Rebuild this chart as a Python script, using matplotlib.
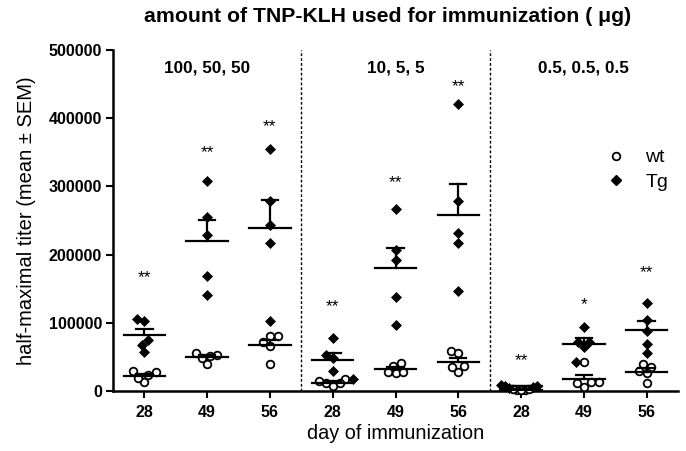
import numpy as np
import matplotlib
matplotlib.use("Agg")
import matplotlib.pyplot as plt
from matplotlib.lines import Line2D

plt.rcParams['font.family'] = ['Liberation Sans', 'DejaVu Sans']

# ---------------- data ----------------
group_labels = ["100, 50, 50", "10, 5, 5", "0.5, 0.5, 0.5"]
day_labels = ["28", "49", "56", "28", "49", "56", "28", "49", "56"]

wt_values = [
    [23500, 13200, 28900, 19500, 27400],
    [50800, 39600, 56200, 47900, 52300],
    [80600, 71400, 66400, 80200, 40000],
    [18000, 11200, 7300, 11200, 14200],
    [41000, 27400, 25900, 27400, 37100],
    [59000, 55200, 36200, 27400, 34700],
    [2000, 1500, 3000, 1000, 2500],
    [42000, 12700, 6300, 11200, 12700],
    [39600, 35700, 29300, 25900, 12200],
]
tg_values = [
    [103000, 105000, 75000, 68000, 57000],
    [307900, 254600, 229000, 168600, 140700],
    [354300, 279000, 243400, 217400, 103000],
    [77200, 53200, 48800, 29800, 18000],
    [267300, 206700, 192000, 138300, 96800],
    [420300, 278000, 231600, 217000, 146000],
    [8000, 7000, 9500, 6000, 4500],
    [94300, 72300, 72000, 64000, 42000],
    [129500, 104000, 88400, 69400, 55200],
]
significance = ["**", "**", "**", "**", "**", "**", "**", "*", "**"]
star_heights = [166000, 349000, 387000, 123000, 305000, 447000, 44000, 126000, 173000]

# ---------------- figure ----------------
W, H = 686, 451
fig = plt.figure(figsize=(W / 100, H / 100), dpi=100)
ax_l, ax_r, ax_b, ax_t = 113, 678, 391, 50
ax = fig.add_axes([ax_l / W, 1 - ax_b / H, (ax_r - ax_l) / W, (ax_b - ax_t) / H])

ymax = 500000
xlo, xhi = -0.5, 8.5
ax.set_xlim(xlo, xhi)
ax.set_ylim(0, ymax)

px_per_x = (ax_r - ax_l) / (xhi - xlo)
px_per_y = (ax_b - ax_t) / ymax

def swarm(vals, d=8.0, max_off=20.0):
    """Simple beeswarm: returns horizontal offsets in pixels."""
    ys = np.asarray(vals) * px_per_y
    order = np.argsort(ys)
    placed = []
    offs = np.zeros(len(ys))
    for i in order:
        y = ys[i]
        cands = [0.0]
        for (px, py) in placed:
            dy = abs(py - y)
            if dy < d:
                dx = np.sqrt(d * d - dy * dy)
                cands += [px + dx, px - dx]
        cands = sorted(cands, key=lambda c: (abs(c), c))
        for c in cands:
            ok = True
            for (px, py) in placed:
                if (px - c) ** 2 + (py - y) ** 2 < d * d - 1e-6:
                    ok = False
                    break
            if ok:
                offs[i] = c
                placed.append((c, y))
                break
    m = np.abs(offs).max()
    if m > max_off:
        offs = offs * max_off / m
    return offs

lw = 1.6
for i in range(len(day_labels)):
    wt = np.array(wt_values[i], float)
    tg = np.array(tg_values[i], float)
    allv = np.concatenate([wt, tg])
    offs = swarm(allv) / px_per_x
    n = len(wt)
    ax.plot(i + offs[:n], wt, 'o', ms=5.5, mfc='white', mec='black', mew=1.3,
            zorder=3, clip_on=False)
    ax.plot(i + offs[n:], tg, 'D', ms=5.2, mfc='black', mec='black', mew=0.5,
            zorder=3, clip_on=False)
    for v in (wt, tg):
        m = v.mean()
        sem = v.std(ddof=1) / np.sqrt(len(v))
        ax.plot([i - 0.33, i + 0.33], [m, m], color='black', lw=lw, zorder=4)
        ax.plot([i, i], [m, m + sem], color='black', lw=lw, zorder=4)
        ax.plot([i - 0.13, i + 0.13], [m + sem, m + sem], color='black', lw=lw, zorder=4)
    ax.text(i, star_heights[i], significance[i], ha='center', va='center',
            fontsize=12.5, color='black')

# dividers
for xd in (2.5, 5.5):
    ax.plot([xd, xd], [0, ymax], color='black', lw=1.0, ls=(0, (2, 1.5)), zorder=1)

# group labels
for g, lab in enumerate(group_labels):
    ax.text(3 * g + 1, 473000, lab, ha='center', va='center', fontsize=12.3,
            fontweight='bold')

# axes styling
for s in ('top', 'right'):
    ax.spines[s].set_visible(False)
for s in ('left', 'bottom'):
    ax.spines[s].set_linewidth(1.8)
ax.set_xticks(range(len(day_labels)))
ax.set_xticklabels(day_labels)
ax.set_yticks(np.arange(0, ymax + 1, 100000))
ax.set_yticklabels([str(int(v)) for v in np.arange(0, ymax + 1, 100000)])
ax.tick_params(axis='both', direction='out', length=5, width=1.5, labelsize=11.5)
ax.tick_params(axis='x', pad=5)
ax.tick_params(axis='y', pad=3)
for t in ax.get_xticklabels() + ax.get_yticklabels():
    t.set_fontweight('bold')

ax.set_xlabel("day of immunization", fontsize=14.3, labelpad=3)
ax.set_ylabel("half-maximal titer (mean \u00b1 SEM)", fontsize=14.5, labelpad=9)

fig.text(388 / W, 1 - 17 / H, "amount of TNP-KLH used for immunization ( \u03bcg)",
         ha='center', va='center', fontsize=15.3, fontweight='bold')

handles = [
    Line2D([], [], marker='o', ls='none', ms=5.5, mfc='white', mec='black', mew=1.3),
    Line2D([], [], marker='D', ls='none', ms=5.2, mfc='black', mec='black'),
]
ax.legend(handles, ["wt", "Tg"], loc='upper left', bbox_to_anchor=(589 / W, 1 - 141 / H),
          bbox_transform=fig.transFigure, frameon=False, fontsize=14,
          handletextpad=0.5, labelspacing=0.35, borderaxespad=0)

fig.savefig("out.png", dpi=100)
